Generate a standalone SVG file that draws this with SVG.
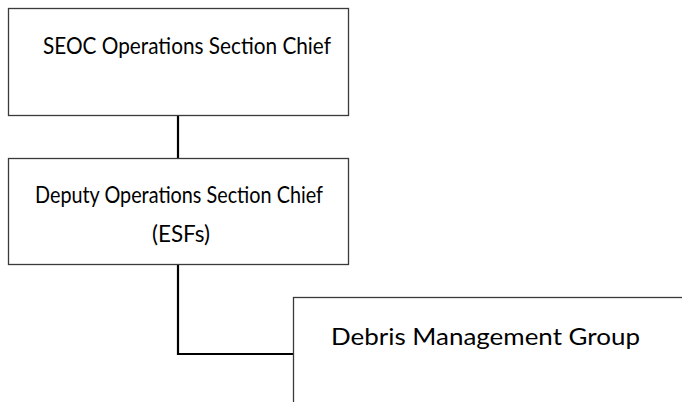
<svg xmlns="http://www.w3.org/2000/svg" width="682" height="402" viewBox="0 0 682 402">
<style>
.box{fill:#fff;stroke:#3a3a3a;stroke-width:1.3}
.lbl{font-family:Lato,"Liberation Sans",sans-serif;font-size:23.5px;fill:#000}
.conn{fill:none;stroke:#000;stroke-width:2.2}
</style>
<rect width="682" height="402" fill="#fff"/>
<g id="connectors">
<line class="conn" x1="178" y1="116" x2="178" y2="158"/>
<polyline class="conn" points="178,265 178,354 293,354"/>
</g>
<g id="seoc-chief">
<rect class="box" x="8.5" y="8.5" width="340" height="107"/>
<text class="lbl" x="43" y="54" textLength="288" lengthAdjust="spacingAndGlyphs">SEOC Operations Section Chief</text>
</g>
<g id="deputy-chief">
<rect class="box" x="8.5" y="158.5" width="340" height="106"/>
<text class="lbl" x="35" y="203" textLength="288" lengthAdjust="spacingAndGlyphs">Deputy Operations Section Chief</text>
<text class="lbl" x="181" y="242" text-anchor="middle" textLength="58" lengthAdjust="spacingAndGlyphs">(ESFs)</text>
</g>
<g id="debris-group">
<rect class="box" x="293.5" y="297.5" width="420" height="130"/>
<text class="lbl" x="331" y="345" textLength="309" lengthAdjust="spacingAndGlyphs">Debris Management Group</text>
</g>
</svg>
